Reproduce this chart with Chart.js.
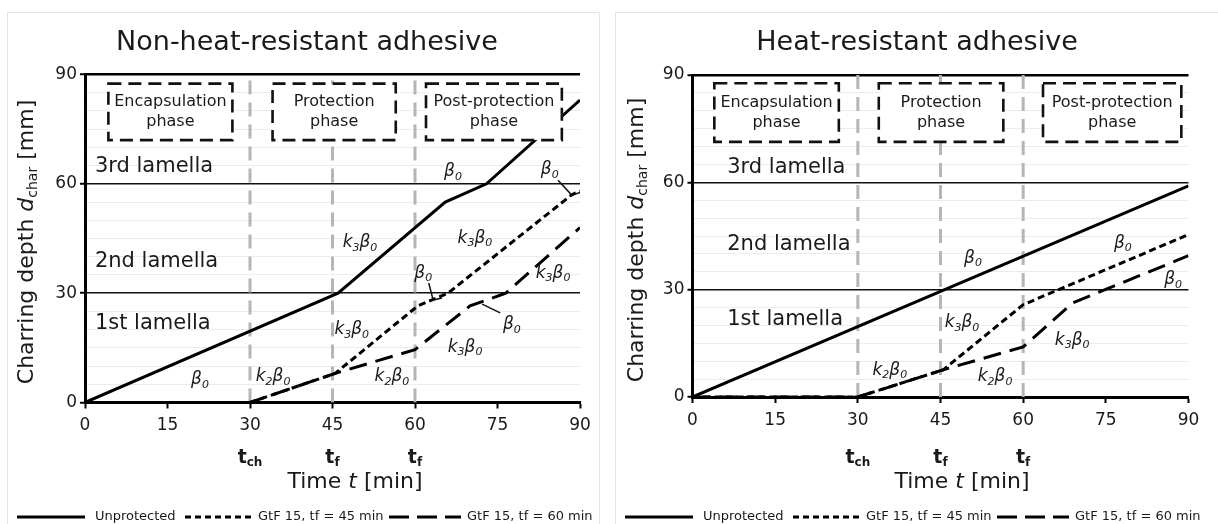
<!DOCTYPE html>
<html>
<head>
<meta charset="utf-8">
<script src="https://cdn.jsdelivr.net/npm/chart.js@4.4.0/dist/chart.umd.min.js"></script>
<style>
  html, body { margin: 0; padding: 0; background: #fff; }
  #wrap { position: relative; width: 1218px; height: 524px; overflow: hidden; background: #fff; }
  canvas { position: absolute; top: 0; }
</style>
</head>
<body>
<div id="wrap">
  <canvas id="left" width="606" height="524" style="left:0"></canvas>
  <canvas id="right" width="612" height="524" style="left:606px"></canvas>
</div>
<script>
// ---- charring depth curves: time [min] and depth [mm] ----
// Non-heat-resistant adhesive
const nhrUnprotectedTime  = [0, 46, 65.5, 73, 90];
const nhrUnprotectedDepth = [0, 30, 55, 60, 83];
const nhrTf45Time  = [0, 30, 45.5, 60.5, 66, 88.5, 90];
const nhrTf45Depth = [0, 0, 8, 26.5, 30, 57, 58];
const nhrTf60Time  = [0, 30, 45.5, 60, 70, 76.5, 90];
const nhrTf60Depth = [0, 0, 8, 14.5, 26.5, 30, 48];

// Heat-resistant adhesive
const hrUnprotectedTime  = [0, 90];
const hrUnprotectedDepth = [0, 59];
const hrTf45Time  = [0, 30, 45.5, 60, 90];
const hrTf45Depth = [0, 0, 7.6, 25.8, 45.4];
const hrTf60Time  = [0, 30, 45.5, 60, 69, 90];
const hrTf60Depth = [0, 0, 7.6, 14, 26.3, 39.5];

// ---- axes and labels ----
const xTicks = [0, 15, 30, 45, 60, 75, 90];
const yTicks = [0, 30, 60, 90];
const markerTimes = [30, 45, 60];
const markerLabels = [['t', 'ch'], ['t', 'f'], ['t', 'f']];
const seriesNames = ['Unprotected', 'GtF 15, tf = 45 min', 'GtF 15, tf = 60 min'];
const phaseNames = [['Encapsulation', 'phase'], ['Protection', 'phase'], ['Post-protection', 'phase']];
const lamellaNames = ['3rd lamella', '2nd lamella', '1st lamella'];

const FONT = '"DejaVu Sans", Verdana, sans-serif';
const INK = '#1a1a1a';

// rate symbols: main glyph followed by its subscript
const RATE = {
  b:  [['β', '0']],
  k2: [['k', '2'], ['β', '0']],
  k3: [['k', '3'], ['β', '0']]
};

const panels = [
  {
    id: 'left', W: 606, H: 524,
    title: 'Non-heat-resistant adhesive',
    curves: [[nhrUnprotectedTime, nhrUnprotectedDepth], [nhrTf45Time, nhrTf45Depth], [nhrTf60Time, nhrTf60Depth]],
    area: { left: 85, right: 580, top: 74.5, bottom: 402.5 },
    titleX: 307, xTitleX: 355, yTitleX: 27, yTitleY: 242, legendX: 0,
    frame: [7, 12, 592, 530],
    boxes: [[4.25, 26.8], [34.1, 56.5], [62, 86.7]], boxY: [72, 87.5],
    lamellaT: 1.8, lamellaD: [64.7, 38.6, 21.8],
    rates: [
      ['b', 66.9, 63.3], ['b', 84.5, 63.8], ['k3', 50, 43.8], ['k3', 70.9, 45.1],
      ['b', 61.5, 35.5], ['k3', 85.1, 35.5], ['b', 77.6, 21.3], ['k3', 48.5, 19.9],
      ['k3', 69.1, 15.2], ['k2', 34.2, 7.0], ['k2', 55.8, 7.0], ['b', 20.9, 6.2]
    ],
    pointers: [
      [[86.0, 61.0], [88.5, 56.9], [90, 57.6]],
      [[62.5, 32.8], [63.3, 28.1], [64.9, 28.7]],
      [[75.5, 24.6], [72.2, 27.0]]
    ]
  },
  {
    id: 'right', W: 612, H: 524,
    title: 'Heat-resistant adhesive',
    curves: [[hrUnprotectedTime, hrUnprotectedDepth], [hrTf45Time, hrTf45Depth], [hrTf60Time, hrTf60Depth]],
    area: { left: 86.5, right: 582.5, top: 75, bottom: 397 },
    titleX: 311, xTitleX: 356, yTitleX: 31, yTitleY: 240, legendX: 2,
    frame: [9, 12, 620, 530],
    boxes: [[3.96, 26.55], [33.8, 56.4], [63.6, 88.7]], boxY: [71.3, 87.7],
    lamellaT: 6.3, lamellaD: [64.0, 42.7, 21.6],
    rates: [
      ['b', 50.9, 38.8], ['b', 78.1, 43.0], ['b', 87.2, 32.7], ['k3', 48.9, 20.7],
      ['k3', 68.9, 15.9], ['k2', 35.8, 7.5], ['k2', 54.9, 5.6]
    ],
    pointers: []
  }
];

function drawRich(ctx, parts, x, y, align) {
  let w = 0;
  parts.forEach(p => { ctx.font = p.font; p.w = ctx.measureText(p.text).width; w += p.w; });
  let cx = align === 'center' ? x - w / 2 : (align === 'right' ? x - w : x);
  ctx.textAlign = 'left';
  parts.forEach(p => { ctx.font = p.font; ctx.fillText(p.text, cx, y + (p.dy || 0)); cx += p.w; });
}

function rateParts(key) {
  const out = [];
  RATE[key].forEach(([m, s]) => {
    out.push({ text: m, font: 'italic 17px ' + FONT });
    out.push({ text: s, font: 'italic 11px ' + FONT, dy: 5 });
  });
  return out;
}

const decorations = {
  id: 'decorations',
  afterDatasetsDraw(chart, args, opts) {
    const p = opts.panel;
    const { ctx, scales: { x, y } } = chart;
    ctx.save();
    // phase boxes (white filled, dashed outline)
    p.boxes.forEach(([t0, t1], i) => {
      const x0 = x.getPixelForValue(t0), x1 = x.getPixelForValue(t1);
      const y0 = y.getPixelForValue(p.boxY[1]), y1 = y.getPixelForValue(p.boxY[0]);
      ctx.fillStyle = '#fff';
      ctx.fillRect(x0, y0, x1 - x0, y1 - y0);
      ctx.setLineDash([13, 7]);
      ctx.lineWidth = 2.6;
      ctx.strokeStyle = '#111';
      ctx.strokeRect(x0, y0, x1 - x0, y1 - y0);
      ctx.setLineDash([]);
      ctx.fillStyle = INK;
      ctx.font = '16px ' + FONT;
      ctx.textAlign = 'center';
      ctx.textBaseline = 'middle';
      const cx = (x0 + x1) / 2, cy = (y0 + y1) / 2;
      ctx.fillText(phaseNames[i][0], cx, cy - 10);
      ctx.fillText(phaseNames[i][1], cx, cy + 10);
    });
    // lamella names
    ctx.fillStyle = INK;
    ctx.font = '21px ' + FONT;
    ctx.textAlign = 'left';
    ctx.textBaseline = 'middle';
    lamellaNames.forEach((name, i) => {
      ctx.fillText(name, x.getPixelForValue(p.lamellaT), y.getPixelForValue(p.lamellaD[i]));
    });
    // leader lines
    ctx.strokeStyle = '#111';
    ctx.lineWidth = 1.5;
    p.pointers.forEach(path => {
      ctx.beginPath();
      path.forEach(([t, d], j) => {
        const px = x.getPixelForValue(t), py = y.getPixelForValue(d);
        if (j === 0) ctx.moveTo(px, py); else ctx.lineTo(px, py);
      });
      ctx.stroke();
    });
    // charring rate symbols
    ctx.fillStyle = INK;
    ctx.textBaseline = 'middle';
    p.rates.forEach(([key, t, d]) => {
      drawRich(ctx, rateParts(key), x.getPixelForValue(t), y.getPixelForValue(d), 'center');
    });
    ctx.restore();
  },
  afterDraw(chart, args, opts) {
    const p = opts.panel;
    const { ctx, scales: { x } } = chart;
    ctx.save();
    // light frame round the panel
    ctx.strokeStyle = '#e4e4e4';
    ctx.lineWidth = 1;
    ctx.strokeRect(p.frame[0] + 0.5, p.frame[1] + 0.5, p.frame[2], p.frame[3]);
    // title
    ctx.fillStyle = INK;
    ctx.font = '27px ' + FONT;
    ctx.textAlign = 'center';
    ctx.textBaseline = 'alphabetic';
    ctx.fillText(p.title, p.titleX, 50);
    // phase marker times under the axis
    ctx.textBaseline = 'middle';
    markerTimes.forEach((t, i) => {
      drawRich(ctx, [
        { text: markerLabels[i][0], font: 'bold 19px ' + FONT },
        { text: markerLabels[i][1], font: 'bold 12px ' + FONT, dy: 5 }
      ], x.getPixelForValue(t), 458, 'center');
    });
    // x axis title
    drawRich(ctx, [
      { text: 'Time ', font: '22px ' + FONT },
      { text: 't', font: 'italic 22px ' + FONT },
      { text: ' [min]', font: '22px ' + FONT }
    ], p.xTitleX, 482, 'center');
    // y axis title
    ctx.save();
    ctx.translate(p.yTitleX, p.yTitleY);
    ctx.rotate(-Math.PI / 2);
    drawRich(ctx, [
      { text: 'Charring depth ', font: '22px ' + FONT },
      { text: 'd', font: 'italic 22px ' + FONT },
      { text: 'char', font: '14px ' + FONT, dy: 6 },
      { text: ' [mm]', font: '22px ' + FONT }
    ], 0, 0, 'center');
    ctx.restore();
    // legend
    const lx = p.legendX;
    const samples = [[17, 68, []], [185, 68, [6, 4]], [389, 72, [20, 8]]];
    const textX = [95, 258, 467];
    ctx.strokeStyle = '#000';
    ctx.lineWidth = 3;
    ctx.lineCap = 'butt';
    samples.forEach(([sx, len, dash], i) => {
      ctx.setLineDash(dash);
      ctx.beginPath();
      ctx.moveTo(lx + sx, 517);
      ctx.lineTo(lx + sx + len, 517);
      ctx.stroke();
      ctx.setLineDash([]);
      ctx.font = '13px ' + FONT;
      ctx.textAlign = 'left';
      ctx.fillStyle = INK;
      ctx.fillText(seriesNames[i], lx + textX[i], 517);
    });
    ctx.restore();
  }
};

const points = (ts, ds) => ts.map((t, i) => ({ x: t, y: ds[i] }));
const dashes = [[], [7, 4], [18, 9]];

panels.forEach(p => {
  const datasets = p.curves.map(([ts, ds], i) => ({
    label: seriesNames[i],
    data: points(ts, ds),
    borderColor: '#000',
    borderWidth: 3,
    borderDash: dashes[i],
    pointRadius: 0,
    tension: 0,
    order: 1
  }));
  markerTimes.forEach(t => datasets.push({
    label: 't' + t,
    data: [{ x: t, y: 0 }, { x: t, y: 90 }],
    borderColor: '#b5b5b5',
    borderWidth: 3,
    borderDash: [14, 8],
    pointRadius: 0,
    order: 5
  }));

  new Chart(document.getElementById(p.id), {
    type: 'line',
    data: { datasets },
    plugins: [decorations],
    options: {
      responsive: false,
      animation: false,
      devicePixelRatio: 1,
      layout: { padding: { left: 0, top: p.area.top, right: p.W - p.area.right, bottom: 0 } },
      plugins: {
        legend: { display: false },
        tooltip: { enabled: false },
        decorations: { panel: p }
      },
      scales: {
        x: {
          type: 'linear', min: 0, max: 90,
          afterFit: s => { s.height = p.H - p.area.bottom; },
          afterBuildTicks: s => { s.ticks = xTicks.map(v => ({ value: v })); },
          ticks: { color: INK, font: { family: FONT, size: 17 }, padding: 7, maxRotation: 0, autoSkip: false },
          grid: { drawOnChartArea: false, drawTicks: true, tickLength: 6, tickColor: '#000', tickWidth: 2 },
          border: { color: '#000', width: 3 }
        },
        y: {
          type: 'linear', min: 0, max: 90,
          afterFit: s => { s.width = p.area.left; },
          ticks: {
            stepSize: 5, autoSkip: false, color: INK, padding: 3,
            font: { family: FONT, size: 17 },
            callback: v => (yTicks.includes(v) ? String(v) : '')
          },
          grid: {
            color: c => {
              const v = c.tick.value;
              if (v === 90) return '#000';
              if (v === 30 || v === 60) return '#111';
              if (v === 0) return 'rgba(0,0,0,0)';
              return '#ececec';
            },
            lineWidth: c => (c.tick.value === 90 ? 2.5 : (c.tick.value % 30 === 0 ? 1.5 : 1)),
            tickColor: c => (c.tick.value % 30 === 0 ? '#000' : 'rgba(0,0,0,0)'),
            tickLength: 5,
            tickWidth: 2
          },
          border: { color: '#000', width: 3 }
        }
      }
    }
  });
});
</script>
</body>
</html>
